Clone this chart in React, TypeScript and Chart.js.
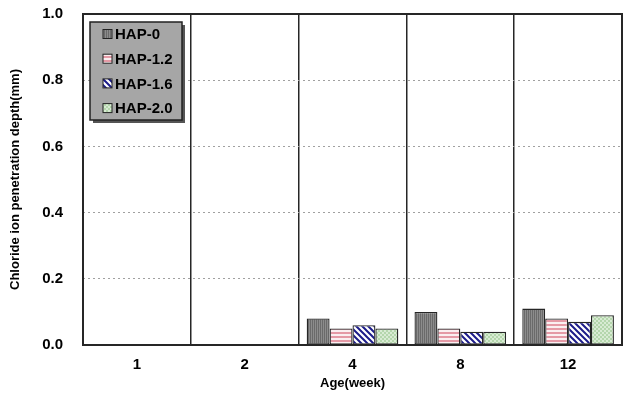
import React, { useEffect, useRef } from "react";
import { Chart, registerables } from "chart.js";
Chart.register(...registerables);

const categories = ["1", "2", "4", "8", "12"];
const seriesNames = ["HAP-0", "HAP-1.2", "HAP-1.6", "HAP-2.0"];
const hap0 = [null, null, 0.08, 0.10, 0.11];
const hap12 = [null, null, 0.05, 0.05, 0.08];
const hap16 = [null, null, 0.06, 0.04, 0.07];
const hap20 = [null, null, 0.05, 0.04, 0.09];
const yTicks = [0, 0.2, 0.4, 0.6, 0.8, 1.0];

function makePattern(kind: number): CanvasPattern | string {
  const c = document.createElement("canvas");
  const s = kind === 2 ? 6 : 4;
  c.width = s; c.height = s;
  const g = c.getContext("2d")!;
  if (kind === 0) {
    g.fillStyle = "#8c8c8c"; g.fillRect(0, 0, s, s);
    g.fillStyle = "#6a6a6a"; g.fillRect(0, 0, 1, s); g.fillRect(2, 0, 1, s);
  } else if (kind === 1) {
    g.fillStyle = "#fbeff1"; g.fillRect(0, 0, s, s);
    g.fillStyle = "#e59aa6"; g.fillRect(0, 0, s, 2);
  } else if (kind === 2) {
    g.fillStyle = "#ffffff"; g.fillRect(0, 0, s, s);
    g.strokeStyle = "#1c1c8a"; g.lineWidth = 2;
    g.beginPath();
    g.moveTo(-1, -1); g.lineTo(s + 1, s + 1);
    g.moveTo(-1 - s, -1); g.lineTo(1, s + 1);
    g.moveTo(s - 1, -1); g.lineTo(2 * s + 1, s + 1);
    g.stroke();
  } else {
    g.fillStyle = "#ffffff"; g.fillRect(0, 0, s, s);
    g.fillStyle = "#b4d6ac"; g.fillRect(0, 0, 2, 2); g.fillRect(2, 2, 2, 2);
    g.fillStyle = "#d8ebd3"; g.fillRect(2, 0, 2, 2); g.fillRect(0, 2, 2, 2);
  }
  return g.createPattern(c, "repeat") || "#888";
}

const FONT = "Arial, 'Liberation Sans', sans-serif";

export default function App() {
  const ref = useRef<HTMLCanvasElement>(null);
  useEffect(() => {
    document.body.style.margin = "0";
    const ctx = ref.current!.getContext("2d")!;
    const patterns = [0, 1, 2, 3].map(makePattern);
    const data = [hap0, hap12, hap16, hap20];
    const framePlugin = {
      id: "frame",
      afterDraw(chart: any) {
        const { ctx, chartArea: a } = chart;
        ctx.save();
        ctx.strokeStyle = "#262626";
        ctx.lineWidth = 2;
        ctx.strokeRect(a.left, a.top, a.right - a.left, a.bottom - a.top);
        const bx = 90, by = 22, bw = 92, bh = 98;
        ctx.fillStyle = "#555";
        ctx.fillRect(bx + 3, by + 3, bw, bh);
        ctx.fillStyle = "#a6a6a6";
        ctx.fillRect(bx, by, bw, bh);
        ctx.strokeStyle = "#222";
        ctx.lineWidth = 1.5;
        ctx.strokeRect(bx, by, bw, bh);
        ctx.font = "bold 15px " + FONT;
        ctx.textBaseline = "middle";
        ctx.textAlign = "left";
        chart.data.datasets.forEach((ds: any, i: number) => {
          const y = 34 + i * 24.7;
          ctx.fillStyle = ds.backgroundColor;
          ctx.fillRect(103, y - 4.5, 9, 9);
          ctx.strokeStyle = "#222";
          ctx.lineWidth = 1;
          ctx.strokeRect(103, y - 4.5, 9, 9);
          ctx.fillStyle = "#000";
          ctx.fillText(ds.label, 115, y + 1);
        });
        ctx.restore();
      },
    };
    const chart = new Chart(ctx, {
      type: "bar",
      data: {
        labels: categories,
        datasets: seriesNames.map((n, i) => ({
          label: n,
          data: data[i] as any,
          backgroundColor: patterns[i] as any,
          borderColor: "#262626",
          borderWidth: 1.3,
          borderSkipped: false,
          barPercentage: 1,
          categoryPercentage: 0.85,
        })),
      },
      options: {
        animation: false,
        responsive: false,
        layout: { padding: { top: 14, right: 1, bottom: 10, left: 0 } },
        plugins: { legend: { display: false }, tooltip: { enabled: false } },
        scales: {
          x: {
            afterFit: (s: any) => { s.height = 47; s.paddingLeft = 0; s.paddingRight = 0; },
            grid: { color: "#262626", lineWidth: 1.5, drawTicks: false, offset: true },
            border: { display: false },
            ticks: { color: "#000", font: { family: FONT, size: 15, weight: "bold" }, padding: 11 },
            title: { display: true, text: "Age(week)", color: "#000", font: { family: FONT, size: 13, weight: "bold" }, padding: { top: 2, bottom: 1 } },
          },
          y: {
            min: 0,
            max: 1,
            afterBuildTicks: (s: any) => { s.ticks = yTicks.map((v) => ({ value: v })); },
            afterFit: (s: any) => { s.width = 83; s.paddingTop = 0; s.paddingBottom = 0; },
            grid: {
              color: (c: any) => (c.tick && (c.tick.value === 0 || c.tick.value === 1) ? "rgba(0,0,0,0)" : "#a0a0a0"),
              lineWidth: 1,
              drawTicks: false,
            },
            border: { display: false, dash: [2, 3] },
            ticks: {
              color: "#000",
              padding: 20,
              font: { family: FONT, size: 15, weight: "bold" },
              callback: (v: any) => Number(v).toFixed(1),
            },
            title: { display: true, text: "Chloride ion penetration depth(mm)", color: "#000", font: { family: FONT, size: 13, weight: "bold" }, padding: { top: 8, bottom: 0 } },
          },
        },
      },
      plugins: [framePlugin],
    });
    return () => chart.destroy();
  }, []);
  return <canvas ref={ref} width={623} height={402} style={{ display: "block" }} />;
}
